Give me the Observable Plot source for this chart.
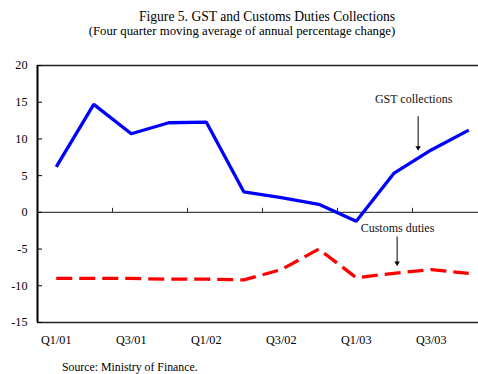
<!DOCTYPE html>
<html>
<head>
<meta charset="utf-8">
<script src="https://cdn.jsdelivr.net/npm/d3@7"></script>
<script src="https://cdn.jsdelivr.net/npm/@observablehq/plot@0.6"></script>
<style>
  html, body { margin: 0; padding: 0; background: #fff; }
  #figure { position: relative; width: 478px; height: 374px; font-family: "Liberation Serif", "Times New Roman", serif; color: #000; overflow: hidden; }
  .line { position: absolute; width: 400px; text-align: center; white-space: nowrap; }
  #title { left: 67px; top: 9px; font-size: 13.6px; line-height: 16px; }
  #subtitle { left: 42px; top: 24px; font-size: 12.8px; line-height: 15px; }
  #chart { position: absolute; left: 0; top: 45px; }
  #chart svg, #chart svg text { font-family: "Liberation Serif", "Times New Roman", serif !important; }
  #source { position: absolute; left: 62px; top: 361px; font-size: 11.8px; line-height: 13px; }
</style>
</head>
<body>
<div id="figure">
  <div id="title" class="line">Figure 5. GST and Customs Duties Collections</div>
  <div id="subtitle" class="line">(Four quarter moving average of annual percentage change)</div>
  <div id="chart"></div>
  <div id="source">Source: Ministry of Finance.</div>
</div>
<script>
// Quarters on the horizontal axis
const quarters = ["Q1/01", "Q2/01", "Q3/01", "Q4/01", "Q1/02", "Q2/02", "Q3/02", "Q4/02", "Q1/03", "Q2/03", "Q3/03", "Q4/03"];
// Four-quarter moving average of annual % change
const gst =     [6.2, 14.7, 10.7, 12.2, 12.3, 2.8, 2.0, 1.1, -1.2, 5.3, 8.5, 11.2];
const customs = [-9.0, -9.0, -9.0, -9.1, -9.1, -9.2, -7.8, -5.0, -8.9, -8.3, -7.8, -8.3];
// Axis ticks
const yTicks = [-15, -10, -5, 0, 5, 10, 15, 20];
const xLabelIdx = [0, 2, 4, 6, 8, 10];
const xTickIdx = [1.5, 3.5, 5.5, 7.5, 9.5, 11.5];
// Callouts: label position and arrow (in quarter index / percent units)
const labels = [
  {text: "GST collections", x: 9.53, y: 15.4, x1: 9.65, y1: 13.1, x2: 9.65, y2: 8.8},
  {text: "Customs duties", x: 9.1, y: -2.2, x1: 9.09, y1: -3.3, x2: 9.09, y2: -6.9}
];

const rows = quarters.map((q, i) => ({q, i, gst: gst[i], customs: customs[i]}));

const serif = "'Liberation Serif', 'Times New Roman', serif";
const plot = Plot.plot({
  width: 478,
  height: 310,
  marginLeft: 37,
  marginRight: 0,
  marginTop: 20,
  marginBottom: 33,
  style: {fontFamily: serif, fontSize: "12px", color: "#000", background: "transparent"},
  x: {type: "linear", domain: [-0.5, 11.5], range: [37, 487]},
  y: {domain: [-15, 20], range: [277, 20]},
  marks: [
    // frame: left, top and bottom edges
    Plot.ruleX([-0.5], {stroke: "#000", strokeWidth: 2}),
    Plot.ruleY([20, -15], {stroke: "#222", strokeWidth: 1.5}),
    // zero line with quarter-pair tick marks
    Plot.ruleY([0], {stroke: "#444", strokeWidth: 1.2}),
    Plot.ruleX(xTickIdx, {y1: () => 0, y2: () => 0, insetBottom: 4, stroke: "#222", strokeWidth: 1}),
    // inward y tick marks
    Plot.ruleY(yTicks, {x1: () => -0.5, x2: () => -0.5, insetRight: -5, stroke: "#000", strokeWidth: 1}),
    Plot.axisY({ticks: yTicks, tickSize: 0, tickPadding: 10, tickFormat: d => String(d), fontFamily: serif, fontSize: 12.2}),
    Plot.axisX({ticks: xLabelIdx, tickSize: 0, tickPadding: 13, tickFormat: i => quarters[i], fontFamily: serif, fontSize: 12.2}),
    // series
    Plot.line(rows, {x: "i", y: "customs", stroke: "#ff0000", strokeWidth: 3.3, strokeDasharray: "16,7", strokeLinecap: "butt", strokeLinejoin: "miter"}),
    Plot.line(rows, {x: "i", y: "gst", stroke: "#0000ff", strokeWidth: 3.3, strokeLinecap: "butt", strokeLinejoin: "miter"}),
    // callouts
    Plot.text(labels, {x: "x", y: "y", text: "text", fill: "#111", fontSize: 12, fontFamily: serif}),
    Plot.link(labels, {x1: "x1", y1: "y1", x2: "x2", y2: "y2", stroke: "#000", strokeWidth: 1}),
    Plot.dot(labels, {x: "x2", y: "y2", symbol: "triangle", rotate: 180, r: 2, fill: "#000", stroke: "none"})
  ]
});
document.getElementById("chart").appendChild(plot);
</script>
</body>
</html>
